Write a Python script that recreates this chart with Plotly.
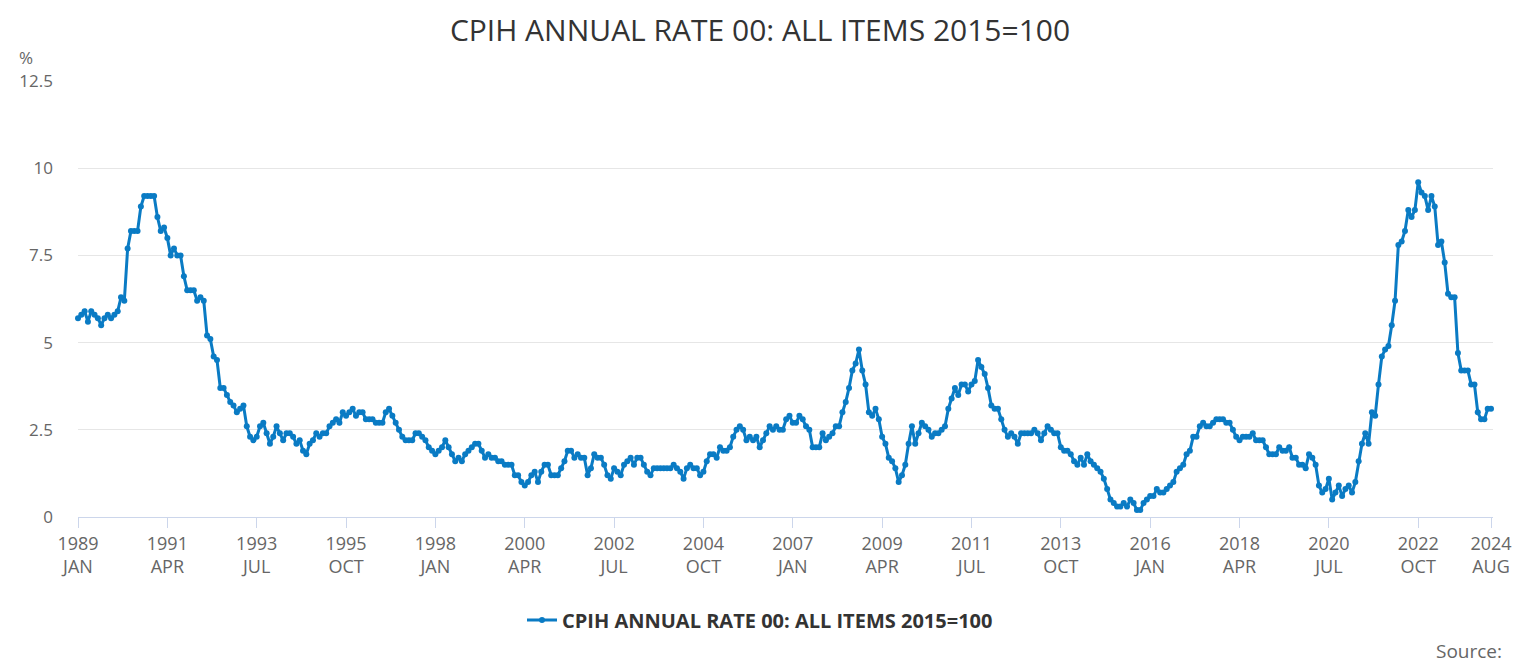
import plotly.graph_objects as go

months = ["JAN", "FEB", "MAR", "APR", "MAY", "JUN", "JUL", "AUG", "SEP", "OCT", "NOV", "DEC"]
years = list(range(1989, 2025))

v1989 = [5.7, 5.8, 5.9, 5.6, 5.9, 5.8, 5.7, 5.5, 5.7, 5.8, 5.7, 5.8]
v1990 = [5.9, 6.3, 6.2, 7.7, 8.2, 8.2, 8.2, 8.9, 9.2, 9.2, 9.2, 9.2]
v1991 = [8.6, 8.2, 8.3, 8.0, 7.5, 7.7, 7.5, 7.5, 6.9, 6.5, 6.5, 6.5]
v1992 = [6.2, 6.3, 6.2, 5.2, 5.1, 4.6, 4.5, 3.7, 3.7, 3.5, 3.3, 3.2]
v1993 = [3.0, 3.1, 3.2, 2.6, 2.3, 2.2, 2.3, 2.6, 2.7, 2.4, 2.1, 2.3]
v1994 = [2.6, 2.4, 2.2, 2.4, 2.4, 2.3, 2.1, 2.2, 1.9, 1.8, 2.1, 2.2]
v1995 = [2.4, 2.3, 2.4, 2.4, 2.6, 2.7, 2.8, 2.7, 3.0, 2.9, 3.0, 3.1]
v1996 = [2.9, 3.0, 3.0, 2.8, 2.8, 2.8, 2.7, 2.7, 2.7, 3.0, 3.1, 2.9]
v1997 = [2.7, 2.5, 2.3, 2.2, 2.2, 2.2, 2.4, 2.4, 2.3, 2.2, 2.0, 1.9]
v1998 = [1.8, 1.9, 2.0, 2.2, 2.0, 1.8, 1.6, 1.7, 1.6, 1.8, 1.9, 2.0]
v1999 = [2.1, 2.1, 1.9, 1.7, 1.8, 1.7, 1.7, 1.6, 1.6, 1.5, 1.5, 1.5]
v2000 = [1.2, 1.2, 1.0, 0.9, 1.0, 1.2, 1.3, 1.0, 1.3, 1.5, 1.5, 1.2]
v2001 = [1.2, 1.2, 1.4, 1.6, 1.9, 1.9, 1.7, 1.8, 1.7, 1.7, 1.2, 1.4]
v2002 = [1.8, 1.7, 1.7, 1.5, 1.2, 1.1, 1.4, 1.3, 1.2, 1.5, 1.6, 1.7]
v2003 = [1.5, 1.7, 1.7, 1.5, 1.3, 1.2, 1.4, 1.4, 1.4, 1.4, 1.4, 1.4]
v2004 = [1.5, 1.4, 1.3, 1.1, 1.4, 1.5, 1.4, 1.4, 1.2, 1.3, 1.6, 1.8]
v2005 = [1.8, 1.7, 2.0, 1.9, 1.9, 2.0, 2.3, 2.5, 2.6, 2.5, 2.2, 2.3]
v2006 = [2.2, 2.3, 2.0, 2.2, 2.4, 2.6, 2.5, 2.6, 2.5, 2.5, 2.8, 2.9]
v2007 = [2.7, 2.7, 2.9, 2.8, 2.6, 2.5, 2.0, 2.0, 2.0, 2.4, 2.2, 2.3]
v2008 = [2.4, 2.6, 2.6, 3.0, 3.3, 3.7, 4.2, 4.4, 4.8, 4.2, 3.8, 3.0]
v2009 = [2.9, 3.1, 2.8, 2.3, 2.1, 1.7, 1.6, 1.4, 1.0, 1.2, 1.5, 2.1]
v2010 = [2.6, 2.1, 2.4, 2.7, 2.6, 2.5, 2.3, 2.4, 2.4, 2.5, 2.6, 3.1]
v2011 = [3.4, 3.7, 3.5, 3.8, 3.8, 3.6, 3.8, 3.9, 4.5, 4.3, 4.1, 3.7]
v2012 = [3.2, 3.1, 3.1, 2.8, 2.5, 2.3, 2.4, 2.3, 2.1, 2.4, 2.4, 2.4]
v2013 = [2.4, 2.5, 2.4, 2.2, 2.4, 2.6, 2.5, 2.4, 2.4, 2.0, 1.9, 1.9]
v2014 = [1.8, 1.6, 1.5, 1.7, 1.5, 1.8, 1.6, 1.5, 1.4, 1.3, 1.1, 0.8]
v2015 = [0.5, 0.4, 0.3, 0.3, 0.4, 0.3, 0.5, 0.4, 0.2, 0.2, 0.4, 0.5]
v2016 = [0.6, 0.6, 0.8, 0.7, 0.7, 0.8, 0.9, 1.0, 1.3, 1.4, 1.5, 1.8]
v2017 = [1.9, 2.3, 2.3, 2.6, 2.7, 2.6, 2.6, 2.7, 2.8, 2.8, 2.8, 2.7]
v2018 = [2.7, 2.5, 2.3, 2.2, 2.3, 2.3, 2.3, 2.4, 2.2, 2.2, 2.2, 2.0]
v2019 = [1.8, 1.8, 1.8, 2.0, 1.9, 1.9, 2.0, 1.7, 1.7, 1.5, 1.5, 1.4]
v2020 = [1.8, 1.7, 1.5, 0.9, 0.7, 0.8, 1.1, 0.5, 0.7, 0.9, 0.6, 0.8]
v2021 = [0.9, 0.7, 1.0, 1.6, 2.1, 2.4, 2.1, 3.0, 2.9, 3.8, 4.6, 4.8]
v2022 = [4.9, 5.5, 6.2, 7.8, 7.9, 8.2, 8.8, 8.6, 8.8, 9.6, 9.3, 9.2]
v2023 = [8.8, 9.2, 8.9, 7.8, 7.9, 7.3, 6.4, 6.3, 6.3, 4.7, 4.2, 4.2]
v2024 = [4.2, 3.8, 3.8, 3.0, 2.8, 2.8, 3.1, 3.1]

yearly = [v1989, v1990, v1991, v1992, v1993, v1994, v1995, v1996, v1997, v1998,
          v1999, v2000, v2001, v2002, v2003, v2004, v2005, v2006, v2007, v2008,
          v2009, v2010, v2011, v2012, v2013, v2014, v2015, v2016, v2017, v2018,
          v2019, v2020, v2021, v2022, v2023, v2024]

categories = []
values = []
for yr, vals in zip(years, yearly):
    for i, v in enumerate(vals):
        categories.append(f"{yr} {months[i]}")
        values.append(v)

tick_cats = ["1989 JAN", "1991 APR", "1993 JUL", "1995 OCT", "1998 JAN", "2000 APR",
             "2002 JUL", "2004 OCT", "2007 JAN", "2009 APR", "2011 JUL", "2013 OCT",
             "2016 JAN", "2018 APR", "2020 JUL", "2022 OCT", "2024 AUG"]
tick_text = [c.replace(" ", "<br>") for c in tick_cats]

y_ticks = [0, 2.5, 5, 7.5, 10, 12.5]
y_text = ["0", "2.5", "5", "7.5", "10", "12.5"]

series_name = "CPIH ANNUAL RATE 00: ALL ITEMS 2015=100"
color = "#0a7bc4"

fig = go.Figure()
fig.add_trace(go.Scatter(
    x=categories, y=values, mode="lines+markers", name=series_name,
    line=dict(color=color, width=3),
    marker=dict(color=color, size=6),
    cliponaxis=False,
))

font = "Open Sans, sans-serif"
fig.update_layout(
    width=1520, height=666,
    paper_bgcolor="white", plot_bgcolor="white",
    margin=dict(l=78, r=27, t=81, b=149, autoexpand=False),
    font=dict(family=font, color="#666666", size=17),
    title=dict(text=series_name, x=0.5, xanchor="center", y=1 - 30 / 666, yanchor="middle",
               xref="container", yref="container",
               font=dict(family=font, size=30, color="#333333")),
    showlegend=True,
    legend=dict(orientation="h", x=0.5, xanchor="center", y=1 - 620 / 666, yanchor="middle",
                xref="container", yref="container",
                font=dict(family=font, size=20, color="#333333", weight="bold")),
    xaxis=dict(type="category", range=[0, 427.6], tickmode="array", tickvals=tick_cats,
               ticktext=tick_text, showgrid=False, showline=True, linecolor="#ccd6eb",
               linewidth=1, ticks="outside", ticklen=10, tickcolor="#ccd6eb",
               ticklabelstandoff=0, automargin=False,
               tickfont=dict(size=18, color="#666666"), zeroline=False),
    yaxis=dict(range=[0, 12.5], tickmode="array", tickvals=y_ticks, ticktext=y_text,
               showgrid=True, gridcolor="#e6e6e6", gridwidth=1, zeroline=False,
               showline=False, ticks="", ticklabelstandoff=24, automargin=False,
               tickfont=dict(size=17, color="#666666")),
    annotations=[
        dict(text="%", x=(17 - 78) / 1415, y=(517 - 57) / 436, xref="paper", yref="paper",
             xanchor="left", yanchor="middle", showarrow=False,
             font=dict(family=font, size=17, color="#666666")),
        dict(text="Source:", x=(1504 - 78) / 1415, y=(517 - 651) / 436, xref="paper",
             yref="paper", xanchor="right", yanchor="middle", showarrow=False,
             font=dict(family=font, size=19, color="#666666")),
    ],
)

fig.write_html("out.html")
